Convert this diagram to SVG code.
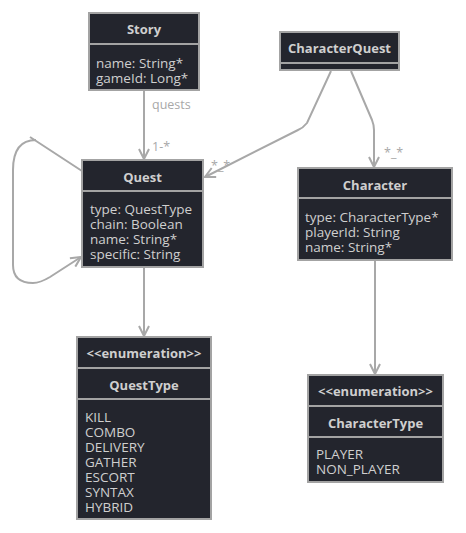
<svg xmlns="http://www.w3.org/2000/svg" width="466" height="533" viewBox="0 0 466 533">
<defs>
<style>
.box{fill:#23252d;stroke:#a3a3a3;stroke-width:2}
.div{stroke:#a3a3a3;stroke-width:2}
.t{font-family:"Open Sans","Noto Sans",sans-serif;font-size:13.5px;fill:#cfcfcf}
.h{font-family:"Open Sans","Noto Sans",sans-serif;font-size:13px;font-weight:bold;fill:#cfcfcf;text-anchor:middle}
.lbl{font-family:"Open Sans","Noto Sans",sans-serif;font-size:12.5px;fill:#a8a8a8}
.edge{fill:none;stroke:#a8a8a8;stroke-width:2}
</style>
<marker id="arr" viewBox="0 0 12 12" refX="11" refY="6" markerWidth="12" markerHeight="12" markerUnits="userSpaceOnUse" orient="auto">
<path d="M1,1 L11,6 L1,11" fill="none" stroke="#a8a8a8" stroke-width="2"/>
</marker>
</defs>
<rect width="466" height="533" fill="#ffffff"/>
<g id="connectors">
<path class="edge" d="M144,90 L144,159" marker-end="url(#arr)"/>
<path class="edge" d="M331,71 L307,123 Q303,128 298,130 L205,177" marker-end="url(#arr)"/>
<path class="edge" d="M351,71 L372,120 Q374,125 374,130 L374,167" marker-end="url(#arr)"/>
<path class="edge" d="M82,171 L30,137 M36,140 Q13,140 13,170 L13,265 Q13,283 33,283 Q40,283 50,277 L81,257" marker-end="url(#arr)"/>
<path class="edge" d="M144,267 L144,336" marker-end="url(#arr)"/>
<path class="edge" d="M375,260 L375,374" marker-end="url(#arr)"/>
<text class="lbl" x="152" y="109">quests</text>
<text class="lbl" x="152" y="151">1-*</text>
<text class="lbl" x="211" y="170">*_*</text>
<text class="lbl" x="384" y="157">*_*</text>
</g>
<g id="Story">
<rect class="box" x="89" y="13" width="110" height="77"/>
<line class="div" x1="89" y1="44" x2="199" y2="44"/>
<text class="h" x="144" y="34">Story</text>
<text class="t" x="96" y="68">name: String*</text>
<text class="t" x="96" y="83">gameId: Long*</text>
</g>
<g id="CharacterQuest">
<rect class="box" x="280" y="32" width="119" height="38"/>
<line class="div" x1="280" y1="63" x2="399" y2="63"/>
<text class="h" x="339.5" y="53">CharacterQuest</text>
</g>
<g id="Quest">
<rect class="box" x="82" y="160" width="121" height="107"/>
<line class="div" x1="82" y1="191" x2="203" y2="191"/>
<text class="h" x="142.5" y="182">Quest</text>
<text class="t" x="90" y="214">type: QuestType</text>
<text class="t" x="90" y="229">chain: Boolean</text>
<text class="t" x="90" y="244">name: String*</text>
<text class="t" x="90" y="259">specific: String</text>
</g>
<g id="Character">
<rect class="box" x="298" y="168" width="154" height="92"/>
<line class="div" x1="298" y1="198" x2="452" y2="198"/>
<text class="h" x="375" y="190">Character</text>
<text class="t" x="305" y="222">type: CharacterType*</text>
<text class="t" x="305" y="237">playerId: String</text>
<text class="t" x="305" y="252">name: String*</text>
</g>
<g id="QuestType">
<rect class="box" x="77" y="337" width="134" height="182"/>
<line class="div" x1="77" y1="368" x2="211" y2="368"/>
<line class="div" x1="77" y1="399" x2="211" y2="399"/>
<text class="h" x="144" y="358">&lt;&lt;enumeration&gt;&gt;</text>
<text class="h" x="144" y="390">QuestType</text>
<text class="t" x="85" y="422">KILL</text>
<text class="t" x="85" y="437">COMBO</text>
<text class="t" x="85" y="452">DELIVERY</text>
<text class="t" x="85" y="467">GATHER</text>
<text class="t" x="85" y="482">ESCORT</text>
<text class="t" x="85" y="497">SYNTAX</text>
<text class="t" x="85" y="512">HYBRID</text>
</g>
<g id="CharacterType">
<rect class="box" x="308" y="375" width="135" height="107"/>
<line class="div" x1="308" y1="406" x2="443" y2="406"/>
<line class="div" x1="308" y1="437" x2="443" y2="437"/>
<text class="h" x="375.5" y="396">&lt;&lt;enumeration&gt;&gt;</text>
<text class="h" x="375.5" y="428">CharacterType</text>
<text class="t" x="316" y="459">PLAYER</text>
<text class="t" x="316" y="474">NON_PLAYER</text>
</g>
</svg>
